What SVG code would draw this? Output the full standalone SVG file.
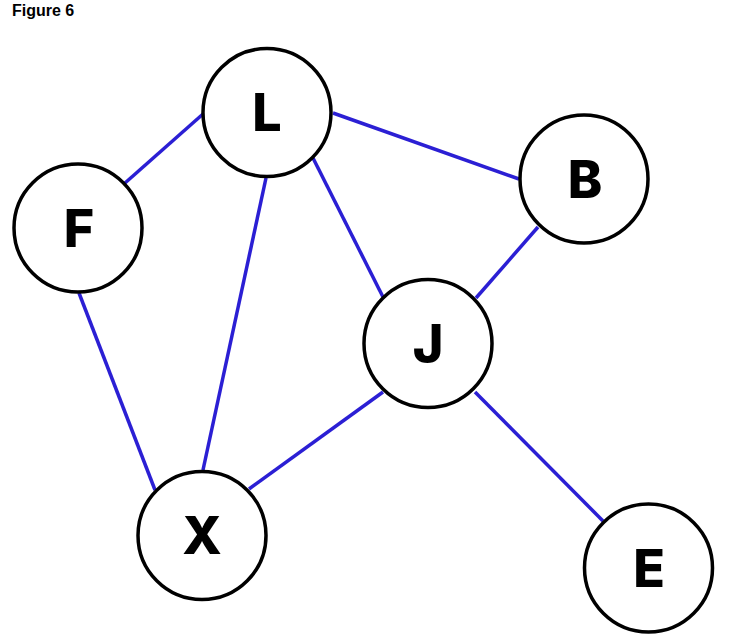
<svg xmlns="http://www.w3.org/2000/svg" width="732" height="643" viewBox="0 0 732 643">
<style>
.edge{stroke:#2b1fd4;stroke-width:3.5;stroke-linecap:butt;fill:none}
.node circle{fill:#fff;stroke:#000;stroke-width:3.5}
.node text{font-family:Inter,"Liberation Sans",sans-serif;font-weight:800;font-size:52px;text-anchor:middle;fill:#000}
.title{font-family:"Liberation Sans",Arial,sans-serif;font-weight:bold;font-size:16px;fill:#000}
</style>
<rect width="732" height="643" fill="#fff"/>
<text class="title" x="12" y="16">Figure 6</text>
<g id="connectors">
<line class="edge" x1="125" y1="183" x2="203" y2="114"/>
<line class="edge" x1="333" y1="113" x2="519" y2="179"/>
<line class="edge" x1="313" y1="158" x2="383" y2="297"/>
<line class="edge" x1="266" y1="178" x2="203" y2="470"/>
<line class="edge" x1="538" y1="227" x2="476" y2="298"/>
<line class="edge" x1="79" y1="293" x2="155" y2="490"/>
<line class="edge" x1="383" y1="392" x2="249" y2="489"/>
<line class="edge" x1="475" y1="392" x2="603" y2="521"/>
</g>
<g id="node-L" class="node"><circle cx="267" cy="112.5" r="64"/><text x="267" y="131">L</text></g>
<g id="node-F" class="node"><circle cx="78" cy="228" r="64"/><text x="79" y="247">F</text></g>
<g id="node-B" class="node"><circle cx="584" cy="179" r="64"/><text x="585" y="198">B</text></g>
<g id="node-J" class="node"><circle cx="428" cy="343.5" r="64"/><text x="428" y="362">J</text></g>
<g id="node-X" class="node"><circle cx="202" cy="535.5" r="64"/><text x="202" y="554">X</text></g>
<g id="node-E" class="node"><circle cx="648.5" cy="568" r="64"/><text x="649" y="587">E</text></g>
</svg>
